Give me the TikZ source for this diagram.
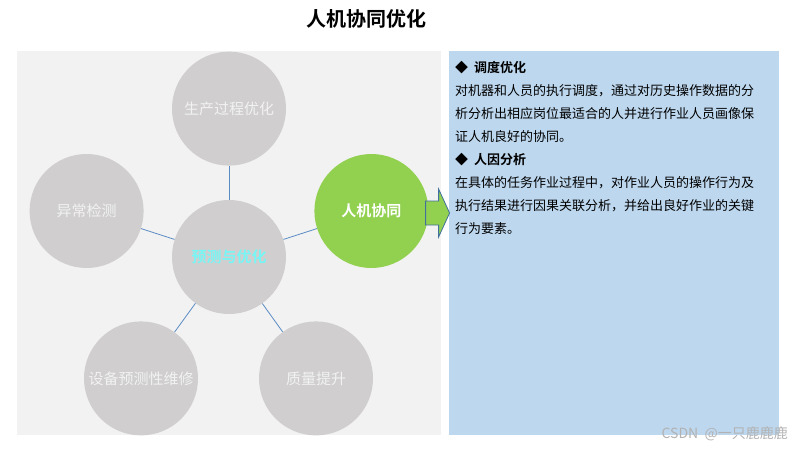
\documentclass[tikz,border=0pt]{standalone}
\usepackage{fontspec}
\setmainfont{Noto Sans CJK SC}[BoldFont={Noto Sans CJK SC Bold}]
\usepackage{xcolor}
\definecolor{panelgray}{RGB}{242,242,242}
\definecolor{bubblegray}{RGB}{208,206,206}
\definecolor{skyblue}{RGB}{189,215,238}
\definecolor{leafgreen}{RGB}{146,208,80}
\definecolor{linkblue}{RGB}{91,140,196}
\definecolor{hubcyan}{RGB}{120,245,245}
\definecolor{arrowedge}{RGB}{65,113,156}
\usepackage{tikz}
\usetikzlibrary{positioning}

\begin{document}
\begin{tikzpicture}[x=1pt,y=-1pt,node distance=30pt]
  \tikzstyle{bubble}=[circle,fill=bubblegray,minimum size=114pt,inner sep=0pt,text=panelgray,font=\fontsize{15}{18}\selectfont]
  \tikzstyle{link}=[draw=linkblue,line width=0.8pt]
  \tikzstyle{pointer}=[fill=leafgreen,draw=arrowedge,line width=0.8pt,line join=miter]
  \useasboundingbox (0,0) rectangle (800,450);
  \fill[panelgray] (17,51) rectangle (441,435);
  \fill[skyblue] (449,51) rectangle (779,435);
  \node[font=\bfseries\fontsize{20}{24}\selectfont] (title) at (366,19) {人机协同优化};
  \node[bubble] (hub) at (229,257) {\textcolor{hubcyan}{\bfseries 预测与优化}};
  \node[bubble,above=34pt of hub] (proc) {生产过程优化};
  \node[bubble,left=28pt of hub,yshift=46pt] (anom) {异常检测};
  \node[bubble,fill=leafgreen,text=white,right=28pt of hub,yshift=46pt,font=\bfseries\fontsize{15}{18}\selectfont] (coop) {人机协同};
  \node[bubble,below=7pt of hub,xshift=-88pt] (maint) {设备预测性维修};
  \node[bubble,below=7pt of hub,xshift=87pt] (qual) {质量提升};
  \draw[link] (hub) -- (proc);
  \draw[link] (hub) -- (anom);
  \draw[link] (hub) -- (coop);
  \draw[link] (hub) -- (maint);
  \draw[link] (hub) -- (qual);
  % block arrow to the notes
  \coordinate (tail) at ([xshift=-3pt,yshift=-2pt]coop.east);
  \draw[pointer] (tail) ++(0,-12) -- ++(13,0) -- ++(0,-12) -- ++(11,24) -- ++(-11,24) -- ++(0,-12) -- ++(-13,0) -- cycle;
  \node[anchor=north west,align=left,inner sep=0pt,font=\fontsize{13}{23}\selectfont] (notes) at (455,61)
    {\textbf{◆\ \ 调度优化}\\
     对机器和人员的执行调度，通过对历史操作数据的分\\
     析分析出相应岗位最适合的人并进行作业人员画像保\\
     证人机良好的协同。\\
     \textbf{◆\ \ 人因分析}\\
     在具体的任务作业过程中，对作业人员的操作行为及\\
     执行结果进行因果关联分析，并给出良好作业的关键\\
     行为要素。};
  \node[anchor=east,inner sep=0pt,text=black!30,font=\fontsize{14}{16}\selectfont] (mark) at (788,434) {CSDN\ \ @一只鹿鹿鹿};
\end{tikzpicture}
\end{document}
